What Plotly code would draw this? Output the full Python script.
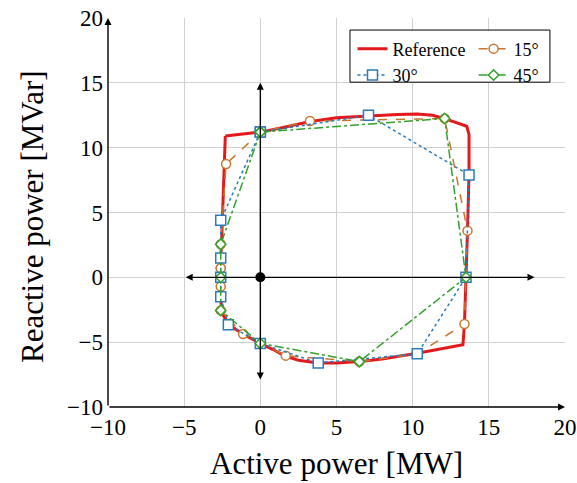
import plotly.graph_objects as go

# Reference capability curve
ref_p = [-2.3, 0.0, 1.5, 3.2, 5.0, 7.0, 9.0, 10.3, 11.3, 12.2, 13.0, 13.55, 13.7, 13.7, 13.6, 13.5, 13.4, 13.3,
         12.0, 10.3, 8.0, 6.5, 5.0, 3.8, 2.5, 1.6, 0.8, 0.0, -1.1, -2.0, -2.4, -2.55, -2.6, -2.6, -2.6,
         -2.55, -2.5, -2.45, -2.4, -2.3]
ref_q = [10.9, 11.2, 11.55, 12.0, 12.3, 12.45, 12.55, 12.6, 12.5, 12.2, 11.9, 11.65, 11.0, 8.0, 3.6, 0.0, -3.6, -5.2,
         -5.5, -5.85, -6.3, -6.5, -6.6, -6.6, -6.4, -6.05, -5.55, -5.1, -4.4, -3.7, -3.0, -2.5, -1.5, 0.0, 1.5,
         2.5, 4.4, 7.0, 8.7, 10.9]

# 15 degree approximation
p15 = [-2.6, -2.6, -2.25, 0.0, 3.26, 12.1, 13.6, 13.5, 13.4, 10.3, 6.5, 1.67, 0.0, -1.13, -2.6, -2.6, -2.6]
q15 = [0.71, 2.55, 8.74, 11.2, 12.05, 12.25, 3.6, 0.0, -3.6, -5.9, -6.5, -6.04, -5.1, -4.37, -2.55, -0.71, 0.71]

# 30 degree approximation
p30 = [0.0, 7.1, 13.7, 13.5, 10.3, 3.8, 0.0, -2.1, -2.6, -2.6, -2.6, -2.6, 0.0]
q30 = [11.2, 12.5, 7.9, 0.0, -5.9, -6.6, -5.1, -3.65, -1.5, 0.0, 1.5, 4.4, 11.2]

# 45 degree approximation
p45 = [0.0, 12.1, 13.5, 6.5, 0.0, -2.6, -2.6, -2.6, 0.0]
q45 = [11.2, 12.25, 0.0, -6.5, -5.1, -2.55, 0.0, 2.55, 11.2]

xticks = [-10, -5, 0, 5, 10, 15, 20]
yticks = [-10, -5, 0, 5, 10, 15, 20]

serif = "Liberation Serif"

fig = go.Figure()
fig.add_trace(go.Scatter(x=ref_p, y=ref_q, mode="lines", name="Reference",
                         line=dict(color="#e3191c", width=3), legend="legend"))
fig.add_trace(go.Scatter(x=p15, y=q15, mode="lines+markers", name="15°",
                         line=dict(color="#c8762e", width=1.5, dash="dash"),
                         marker=dict(symbol="circle", size=9, color="white",
                                     line=dict(color="#c8762e", width=1.5)), legend="legend2"))
fig.add_trace(go.Scatter(x=p30, y=q30, mode="lines+markers", name="30°",
                         line=dict(color="#2b7bba", width=1.5, dash="dot"),
                         marker=dict(symbol="square", size=10, color="white",
                                     line=dict(color="#2b7bba", width=1.5)), legend="legend"))
fig.add_trace(go.Scatter(x=p45, y=q45, mode="lines+markers", name="45°",
                         line=dict(color="#33a02c", width=1.5, dash="dashdot"),
                         marker=dict(symbol="diamond", size=8, color="white",
                                     line=dict(color="#33a02c", width=1.5)), legend="legend2"))
fig.add_trace(go.Scatter(x=[0], y=[0], mode="markers", showlegend=False,
                         marker=dict(color="black", size=10)))

arrows = [
    dict(x=18, y=0, ax=-5, ay=0, arrowside="end+start"),
    dict(x=0, y=15, ax=0, ay=-8, arrowside="end+start"),
    dict(x=-10, y=20, ax=-10, ay=-10, arrowside="end"),
    dict(x=20, y=-10, ax=-10, ay=-10, arrowside="end"),
]
for a in arrows:
    fig.add_annotation(x=a["x"], y=a["y"], ax=a["ax"], ay=a["ay"], xref="x", yref="y",
                       axref="x", ayref="y", showarrow=True, arrowhead=2, arrowsize=1,
                       arrowwidth=1.4, arrowcolor="black", arrowside=a["arrowside"], text="")

# axis titles
fig.add_annotation(x=0.5, y=-0.145, xref="paper", yref="paper", text="Active power [MW]",
                   showarrow=False, font=dict(size=31, family=serif), xanchor="center", yanchor="middle")
fig.add_annotation(x=-0.165, y=0.49, xref="paper", yref="paper", text="Reactive power [MVar]",
                   showarrow=False, font=dict(size=31, family=serif), textangle=-90,
                   xanchor="center", yanchor="middle")

fig.add_shape(type="rect", xref="paper", yref="paper", x0=0.5295, x1=0.967, y0=0.835, y1=0.969,
              line=dict(color="black", width=1), fillcolor="white", layer="above")

fig.update_layout(
    width=577, height=483,
    margin=dict(l=108, r=12, t=18, b=76),
    plot_bgcolor="white", paper_bgcolor="white",
    font=dict(family=serif, color="black"),
    legend=dict(x=0.535, y=0.968, xanchor="left", yanchor="top", bgcolor="rgba(0,0,0,0)",
                font=dict(size=18, family=serif), tracegroupgap=0, itemwidth=30),
    legend2=dict(x=0.80, y=0.968, xanchor="left", yanchor="top", bgcolor="rgba(0,0,0,0)",
                 font=dict(size=18, family=serif), tracegroupgap=0, itemwidth=30),
    xaxis=dict(range=[-10, 20], tickvals=xticks, showgrid=True, gridcolor="#d0d0d0", gridwidth=1,
               zeroline=False, showline=False, tickfont=dict(size=23, family=serif),
               automargin=False, ticks="", ticklabelstandoff=4),
    yaxis=dict(range=[-10, 20], tickvals=yticks, showgrid=True, gridcolor="#d0d0d0", gridwidth=1,
               zeroline=False, showline=False, tickfont=dict(size=23, family=serif),
               automargin=False, ticks="", ticklabelstandoff=4),
)

fig.write_html("out.html", config={"displayModeBar": False},
               post_script="document.body.style.margin='0';document.body.style.overflow='hidden';")
